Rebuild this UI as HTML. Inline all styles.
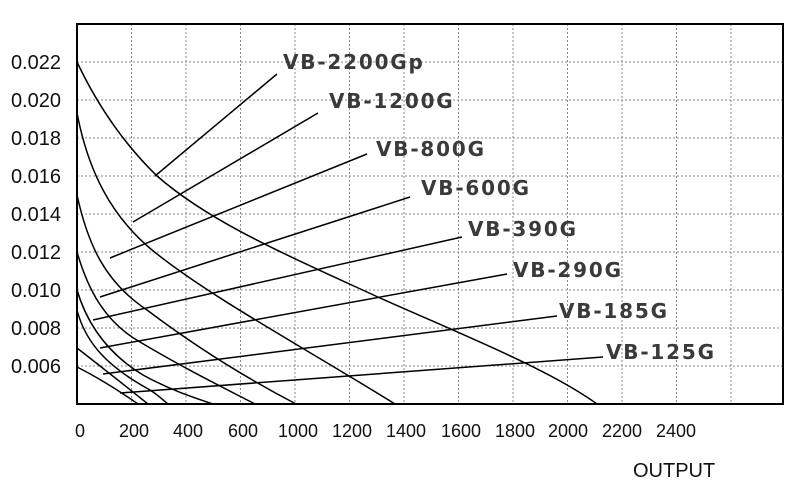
<!DOCTYPE html>
<html><head><meta charset="utf-8"><style>
html,body{margin:0;padding:0;background:#fff}
svg{display:block}
.yl{font-family:"Liberation Sans",sans-serif;font-size:20px;fill:#111;text-anchor:end}
.xl{font-family:"Liberation Sans",sans-serif;font-size:18px;fill:#111;text-anchor:middle}
.lb{font-family:"DejaVu Sans",sans-serif;font-weight:bold;font-size:20px;fill:#3a3a3a;letter-spacing:1.8px}
.g{stroke:#8a8a8a;stroke-width:1;stroke-dasharray:2 2;fill:none}
.c{stroke:#000;stroke-width:1.5;fill:none;stroke-linejoin:round}
</style></head><body>
<svg width="790" height="493" viewBox="0 0 790 493" xmlns="http://www.w3.org/2000/svg">
<g class="g">
<line x1="131.5" y1="24" x2="131.5" y2="404"/><line x1="186" y1="24" x2="186" y2="404"/>
<line x1="240.5" y1="24" x2="240.5" y2="404"/><line x1="295" y1="24" x2="295" y2="404"/>
<line x1="349.5" y1="24" x2="349.5" y2="404"/><line x1="404" y1="24" x2="404" y2="404"/>
<line x1="458.5" y1="24" x2="458.5" y2="404"/><line x1="513" y1="24" x2="513" y2="404"/>
<line x1="567.5" y1="24" x2="567.5" y2="404"/><line x1="622" y1="24" x2="622" y2="404"/>
<line x1="676.5" y1="24" x2="676.5" y2="404"/><line x1="731" y1="24" x2="731" y2="404"/>
<line x1="77" y1="62" x2="783" y2="62"/><line x1="77" y1="100" x2="783" y2="100"/>
<line x1="77" y1="138" x2="783" y2="138"/><line x1="77" y1="176" x2="783" y2="176"/>
<line x1="77" y1="214" x2="783" y2="214"/><line x1="77" y1="252" x2="783" y2="252"/>
<line x1="77" y1="290" x2="783" y2="290"/><line x1="77" y1="328" x2="783" y2="328"/>
<line x1="77" y1="366" x2="783" y2="366"/>
</g>
<rect x="77" y="24" width="706" height="380" fill="none" stroke="#000" stroke-width="2"/>
<g class="c">
<path d="M77,62 C95,100 120,140 157,176 C210,222 280,252 380,298 C470,338 550,370 597,404"/>
<path d="M77,113 C88,170 110,215 152,250 C210,297 300,345 395,404"/>
<path d="M77,195 C88,245 105,282 147,310 C200,350 250,380 296,404"/>
<path d="M77,252 C88,290 105,322 140,342 C180,366 220,386 255,404"/>
<path d="M77,290 C88,327 110,355 143,375 C170,390 195,398 213,404"/>
<path d="M77,310 C86,345 110,368 150,390 C158,395 163,400 168,404"/>
<path d="M77,348 C95,362 118,380 148,404"/>
<path d="M77,367 C95,376 115,388 138,404"/>
<line x1="155" y1="176" x2="277" y2="74"/>
<line x1="133" y1="222" x2="318" y2="113"/>
<line x1="110" y1="258" x2="367" y2="154"/>
<line x1="100" y1="297" x2="410" y2="197"/>
<line x1="93" y1="320" x2="462" y2="237"/>
<line x1="100" y1="348" x2="507" y2="274"/>
<line x1="103" y1="374" x2="557" y2="316"/>
<line x1="120" y1="393" x2="603" y2="357"/>
</g>
<text class="lb" x="283" y="69">VB-2200Gp</text>
<text class="lb" x="329" y="108">VB-1200G</text>
<text class="lb" x="376" y="156">VB-800G</text>
<text class="lb" x="421" y="195">VB-600G</text>
<text class="lb" x="468" y="236">VB-390G</text>
<text class="lb" x="513" y="277">VB-290G</text>
<text class="lb" x="559" y="318">VB-185G</text>
<text class="lb" x="606" y="359">VB-125G</text>
<text class="yl" x="61" y="69">0.022</text>
<text class="yl" x="61" y="107">0.020</text>
<text class="yl" x="61" y="145">0.018</text>
<text class="yl" x="61" y="183">0.016</text>
<text class="yl" x="61" y="221">0.014</text>
<text class="yl" x="61" y="259">0.012</text>
<text class="yl" x="61" y="297">0.010</text>
<text class="yl" x="61" y="335">0.008</text>
<text class="yl" x="61" y="373">0.006</text>
<text class="xl" x="80" y="437">0</text>
<text class="xl" x="134" y="437">200</text>
<text class="xl" x="188" y="437">400</text>
<text class="xl" x="243" y="437">600</text>
<text class="xl" x="298" y="437">1000</text>
<text class="xl" x="352" y="437">1200</text>
<text class="xl" x="406" y="437">1400</text>
<text class="xl" x="461" y="437">1600</text>
<text class="xl" x="515" y="437">1800</text>
<text class="xl" x="568" y="437">2000</text>
<text class="xl" x="622" y="437">2200</text>
<text class="xl" x="676" y="437">2400</text>
<text x="633" y="477" style="font-family:'Liberation Sans',sans-serif;font-size:20px;fill:#111">OUTPUT</text>
</svg>
</body></html>
